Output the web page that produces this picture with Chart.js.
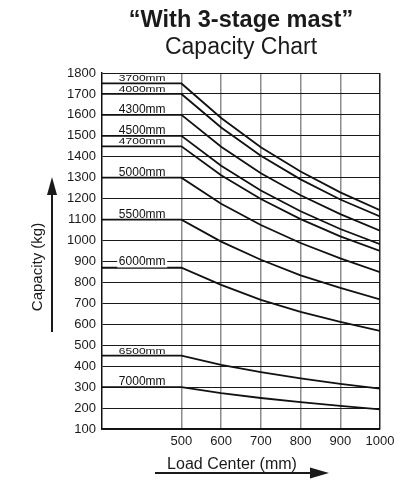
<!DOCTYPE html>
<html>
<head>
<meta charset="utf-8">
<script src="https://cdn.jsdelivr.net/npm/chart.js@4/dist/chart.umd.min.js"></script>
<style>
  html, body { margin: 0; padding: 0; background: #fff; }
  #wrap { width: 417px; height: 482px; }
</style>
</head>
<body>
<div id="wrap"><canvas id="capChart" width="417" height="482"></canvas></div>
<script>
// ── Datos ──────────────────────────────────────────────────────────────
const loadCenters = [300, 500, 600, 700, 800, 900, 1000];
const xTickValues = [500, 600, 700, 800, 900, 1000];
const mastHeights = ["3700mm", "4000mm", "4300mm", "4500mm", "4700mm",
                     "5000mm", "5500mm", "6000mm", "6500mm", "7000mm"];

const cap3700 = [1750, 1750, 1585, 1445, 1330, 1230, 1145];
const cap4000 = [1700, 1700, 1540, 1405, 1292, 1196, 1115];
const cap4300 = [1600, 1600, 1448, 1321, 1216, 1126, 1047];
const cap4500 = [1500, 1500, 1357, 1239, 1140, 1055, 983];
const cap4700 = [1450, 1450, 1312, 1198, 1102, 1020, 950];
const cap5000 = [1300, 1300, 1176, 1074, 988, 915, 849];
const cap5500 = [1100, 1100, 995, 908, 834, 774, 719];
const cap6000 = [870, 870, 788, 717, 659, 612, 568];
const cap6500 = [450, 450, 406, 372, 342, 316, 293];
const cap7000 = [300, 300, 271, 248, 228, 210, 194];

const capacidades = [cap3700, cap4000, cap4300, cap4500, cap4700,
                     cap5000, cap5500, cap6000, cap6500, cap7000];

const FONT = "'Liberation Sans', Arial, Helvetica, sans-serif";

// Etiquetas comprimidas verticalmente en el original
const etiquetasChicas = ["3700mm", "4000mm", "4700mm", "6500mm"];
const etiquetaConFondo = { label: "6000mm", nivel: 900 };

// ── Plugins ────────────────────────────────────────────────────────────
const etiquetasPlugin = {
    id: "etiquetasMastil",
    afterDatasetsDraw(chart) {
        const { ctx, scales: { x, y } } = chart;
        const cx = x.getPixelForValue(400) + 0.5;
        ctx.save();
        ctx.fillStyle = "#111";
        ctx.font = `12px ${FONT}`;
        ctx.textAlign = "center";
        chart.data.datasets.forEach(ds => {
            if (ds.label === etiquetaConFondo.label) {
                const py = y.getPixelForValue(etiquetaConFondo.nivel);
                ctx.fillStyle = "#fff";
                ctx.fillRect(cx - 25, py - 6, 50, 12);
                ctx.fillStyle = "#111";
                ctx.textBaseline = "middle";
                ctx.fillText(ds.label, cx, py + 0.5);
                return;
            }
            const py = y.getPixelForValue(ds.data[0].y) - 2;
            ctx.textBaseline = "alphabetic";
            if (etiquetasChicas.includes(ds.label)) {
                ctx.save();
                ctx.translate(cx, py);
                ctx.scale(1, 0.78);
                ctx.fillText(ds.label, 0, 0);
                ctx.restore();
            } else {
                ctx.fillText(ds.label, cx, py);
            }
        });
        ctx.restore();
    }
};

const titulosPlugin = {
    id: "titulos",
    afterDraw(chart) {
        const { ctx, chartArea } = chart;
        const mid = (chartArea.left + chartArea.right) / 2;
        ctx.save();
        ctx.fillStyle = "#1a1a1a";
        ctx.textAlign = "center";
        ctx.textBaseline = "alphabetic";
        ctx.font = `bold 23.5px ${FONT}`;
        ctx.fillText("\u201CWith 3-stage mast\u201D", mid, 27);
        ctx.font = `23px ${FONT}`;
        ctx.fillText("Capacity Chart", mid, 54);

        // Eje Y: título + flecha
        ctx.save();
        ctx.translate(38, 267);
        ctx.rotate(-Math.PI / 2);
        ctx.font = `15px ${FONT}`;
        ctx.textBaseline = "middle";
        ctx.fillText("Capacity (kg)", 0, 0);
        ctx.restore();

        ctx.strokeStyle = "#1a1a1a";
        ctx.lineWidth = 2;
        ctx.beginPath();
        ctx.moveTo(52, 332);
        ctx.lineTo(52, 190);
        ctx.stroke();
        ctx.beginPath();
        ctx.moveTo(52, 177);
        ctx.lineTo(47, 195);
        ctx.lineTo(57, 195);
        ctx.closePath();
        ctx.fill();

        // Eje X: título + flecha
        ctx.font = `16px ${FONT}`;
        ctx.fillText("Load Center (mm)", 232, 469);
        ctx.beginPath();
        ctx.moveTo(155, 473);
        ctx.lineTo(315, 473);
        ctx.stroke();
        ctx.beginPath();
        ctx.moveTo(329, 473);
        ctx.lineTo(310, 467.5);
        ctx.lineTo(310, 478.5);
        ctx.closePath();
        ctx.fill();
        ctx.restore();
    }
};

// ── Gráfico ────────────────────────────────────────────────────────────
const datasets = mastHeights.map((label, i) => ({
    label,
    data: loadCenters.map((lc, j) => ({ x: lc, y: capacidades[i][j] })),
    borderColor: "#111",
    borderWidth: 1.8,
    pointRadius: 0,
    tension: 0,
    fill: false,
}));

new Chart(document.getElementById("capChart"), {
    type: "line",
    data: { datasets },
    options: {
        responsive: false,
        animation: false,
        layout: { padding: { top: 73, right: 37, left: 0, bottom: 0 } },
        plugins: {
            legend: { display: false },
            title: { display: false },
            tooltip: { enabled: false },
        },
        scales: {
            x: {
                type: "linear",
                min: 300,
                max: 1000,
                afterBuildTicks(scale) {
                    scale.ticks = xTickValues.map(v => ({ value: v }));
                },
                afterFit(scale) { scale.height = 53; },
                grid: {
                    color: c => (c.tick && c.tick.value === 1000 ? "#222" : "#8c8c8c"),
                    lineWidth: 1.5,
                    drawTicks: false,
                },
                border: { display: true, color: "#111", width: 1.5 },
                ticks: {
                    padding: 5,
                    color: "#1a1a1a",
                    font: { family: FONT, size: 13 },
                    maxRotation: 0,
                    callback: v => String(v),
                },
            },
            y: {
                min: 100,
                max: 1800,
                afterFit(scale) { scale.width = 102; },
                grid: { color: "#1a1a1a", lineWidth: 1, drawTicks: false },
                border: { display: true, color: "#111", width: 1.5 },
                ticks: {
                    stepSize: 100,
                    padding: 6,
                    color: "#1a1a1a",
                    font: { family: FONT, size: 13 },
                    callback: v => String(v),
                },
            },
        },
    },
    plugins: [etiquetasPlugin, titulosPlugin],
});
</script>
</body>
</html>
